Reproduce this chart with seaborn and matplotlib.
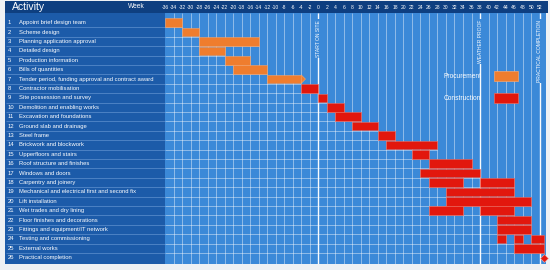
import matplotlib
matplotlib.use("Agg")
import matplotlib.pyplot as plt
from matplotlib.patches import Patch, Polygon, Rectangle
import seaborn as sns
import pandas as pd

# ---------------- data ----------------
activities = [
    "Appoint brief design team",
    "Scheme design",
    "Planning application approval",
    "Detailed design",
    "Production information",
    "Bills of quantities",
    "Tender period, funding approval and contract award",
    "Contractor mobilisation",
    "Site possession and survey",
    "Demolition and enabling works",
    "Excavation and foundations",
    "Ground slab and drainage",
    "Steel frame",
    "Brickwork and blockwork",
    "Upperfloors and stairs",
    "Roof structure and finishes",
    "Windows and doors",
    "Carpentry and joinery",
    "Mechanical and electrical first and second fix",
    "Lift installation",
    "Wet trades and dry lining",
    "Floor finishes and decorations",
    "Fittings and equipment/IT network",
    "Testing and commissioning",
    "External works",
    "Practical completion",
]

seg_task = [1, 2, 3, 4, 5, 6, 7, 8, 9, 10, 11, 12, 13, 14, 15, 16, 17,
            18, 18, 19, 20, 21, 21, 22, 23, 24, 24, 24, 25]
seg_start = [-36, -32, -28, -28, -22, -20, -12, -4, 0, 2, 4, 8, 14, 16, 22, 26, 24,
             26, 38, 30, 30, 26, 38, 42, 42, 42, 46, 50, 46]
seg_end = [-32, -28, -14, -22, -16, -12, -4, 0, 2, 6, 10, 14, 18, 28, 26, 36, 38,
           34, 46, 46, 50, 34, 46, 50, 50, 44, 48, 53, 53]
seg_kind = ["Procurement"] * 7 + ["Construction"] * 22

arrow_task = 7
arrow_tip = -3

milestone_task = [26]
milestone_week = [53]

marker_weeks = [0, 38, 52]
marker_labels = ["START ON SITE", "WEATHER PROOF", "PRACTICAL COMPLETION"]

week_ticks = [-36, -34, -32, -30, -28, -26, -24, -22, -20, -18, -16, -14, -12, -10,
              -8, -6, -4, -2, 0, 2, 4, 6, 8, 10, 12, 14, 16, 18, 20, 22, 24, 26,
              28, 30, 32, 34, 36, 38, 40, 42, 44, 46, 48, 50, 52]

kind_colors = {"Procurement": "#ef7d2e", "Construction": "#e2170d"}
kind_edges = {"Procurement": "#f6a56e", "Construction": "#f06a5c"}

# ---------------- style ----------------
sns.set_theme(style="white")
plt.rcParams["font.family"] = ["Liberation Sans", "DejaVu Sans"]

W, H = 550, 270
BG = "#eef1f4"
HEAD = "#0e3f80"
LEFT = "#1c5ba9"
GANTT = "#3b89d8"

fig = plt.figure(figsize=(W / 100, H / 100), dpi=100, facecolor=BG)


def fbox(x0, y0, x1, y1):
    return [x0 / W, 1 - y1 / H, (x1 - x0) / W, (y1 - y0) / H]


# header band
fig.add_artist(Rectangle((5 / W, 1 - 13 / H), 543 / W, 12.5 / H,
                         transform=fig.transFigure, facecolor=HEAD,
                         edgecolor="none", zorder=0))
fig.text(12 / W, 1 - 7 / H, "Activity", color="white", fontsize=7.5,
         va="center", ha="left")
fig.text(128 / W, 1 - 7 / H, "Week", color="white", fontsize=4.8,
         va="center", ha="left")

YLIM = (26.67, -0.03)

# left panel
axl = fig.add_axes(fbox(5, 13, 165, 264))
axl.set_facecolor(LEFT)
axl.set_xlim(0, 160)
axl.set_ylim(*YLIM)
axl.set_xticks([])
axl.set_yticks([])
for s in axl.spines.values():
    s.set_visible(False)
for i, name in enumerate(activities, start=1):
    axl.text(2.5, i, str(i), color="white", fontsize=4.2, va="center", ha="left")
    axl.text(14, i, name, color="white", fontsize=4.2, va="center", ha="left")
axl.hlines([i + 0.5 for i in range(1, len(activities))], 1, 160,
           color="#6f9fd8", lw=0.5, alpha=0.8)

# gantt panel
ax = fig.add_axes(fbox(165, 13, 546, 264))
ax.set_facecolor(GANTT)
ax.set_xlim(-36, 53.5)
ax.set_ylim(*YLIM)
for s in ax.spines.values():
    s.set_visible(False)

df = pd.DataFrame({"task": seg_task, "start": seg_start, "end": seg_end,
                   "kind": seg_kind})
df["dur"] = df["end"] - df["start"]

# grid: vertical lines
ax.vlines(week_ticks[1:], YLIM[1], YLIM[0], color="white", lw=0.6, alpha=0.5,
          zorder=1)
# horizontal lines only up to the end of each row
row_end = df.groupby("task")["end"].max()
for r in range(1, len(activities)):
    end = row_end.get(r, milestone_week[0])
    ax.hlines(r + 0.5, -36, end, color="white", lw=0.6, alpha=0.5, zorder=1)

# milestone vertical lines and labels
ax.vlines(marker_weeks, YLIM[1], YLIM[0], color="white", lw=1.0, alpha=0.95,
          zorder=1.5)
for w, lab in zip(marker_weeks, marker_labels):
    ax.text(w, 0.72, lab, rotation=90, color="white", fontsize=3.6,
            ha="center", va="top", zorder=2,
            bbox=dict(boxstyle="square,pad=0.15", fc=GANTT, ec="none"))

# bars
for kind in ["Procurement", "Construction"]:
    d = df[df["kind"] == kind]
    ax.barh(d["task"], d["dur"], left=d["start"], height=0.9,
            color=kind_colors[kind], edgecolor=kind_edges[kind], lw=0.4,
            zorder=3)

# arrow tip on tender row
arow = df[df["task"] == arrow_task].iloc[0]
ax.add_patch(Polygon([(arow["end"], arrow_task - 0.45),
                      (arrow_tip, arrow_task),
                      (arow["end"], arrow_task + 0.45)],
                     closed=True, facecolor=kind_colors["Procurement"],
                     edgecolor=kind_edges["Procurement"], lw=0.4, zorder=3))

# practical completion diamond
sns.scatterplot(x=milestone_week, y=milestone_task, marker="D", s=16,
                color=kind_colors["Construction"], edgecolor="#f7b0a8",
                linewidth=0.4, ax=ax, zorder=4, clip_on=False, legend=False)

# week ticks on top (in header)
ax.xaxis.tick_top()
ax.set_xticks(week_ticks)
ax.set_xticklabels([str(w) for w in week_ticks])
ax.tick_params(axis="x", length=0, pad=2.3, labelsize=3.6, labelcolor="white",
               top=True, bottom=False, labeltop=True, labelbottom=False)
ax.set_yticks([])
ax.set_xlabel("")
ax.set_ylabel("")

# legend
handles = [Patch(facecolor=kind_colors[k], edgecolor=kind_edges[k], lw=0.5,
                 label=k) for k in ["Procurement", "Construction"]]
leg = ax.legend(handles=handles, loc="upper left", bbox_to_anchor=(0.73, 0.77),
                frameon=False, fontsize=4.8, labelcolor="white",
                markerfirst=False, handlelength=3.6, handleheight=1.9,
                labelspacing=1.85, handletextpad=1.9, borderpad=0,
                borderaxespad=0)

fig.savefig("out.png", dpi=100, facecolor=BG)
